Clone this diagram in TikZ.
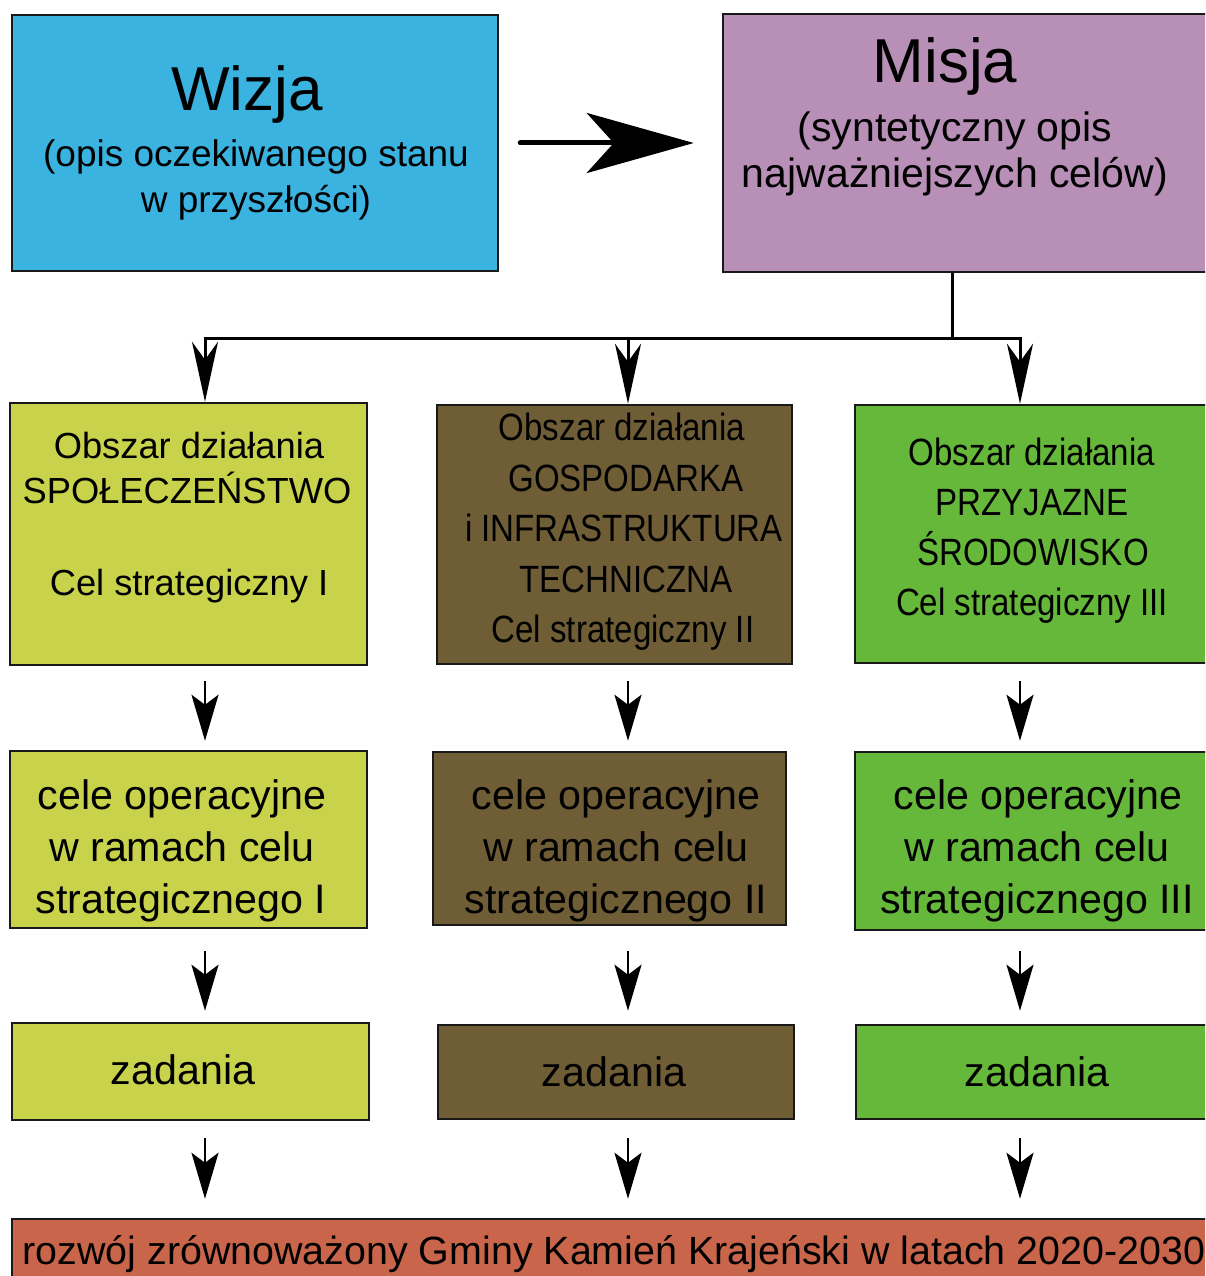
\documentclass[tikz,border=0pt]{standalone}
\usepackage{fontspec}
\setmainfont{Liberation Sans}
\newfontfamily\narrowfont[FakeStretch=0.87]{Liberation Sans}
\usetikzlibrary{arrows.meta}
\newcommand\myfs[1]{\fontsize{#1}{#1}\selectfont}
\definecolor{cwizja}{RGB}{59,179,224}
\definecolor{cmisja}{RGB}{184,143,182}
\definecolor{cyel}{RGB}{201,210,75}
\definecolor{cbrown}{RGB}{111,93,54}
\definecolor{cgreen}{RGB}{102,184,58}
\definecolor{cred}{RGB}{201,101,75}
\definecolor{cborder}{RGB}{25,25,25}
\begin{document}
\begin{tikzpicture}[x=1pt,y=-1pt,
  box/.style={draw=cborder, line width=2.5pt, inner sep=0pt},
  txt/.style={anchor=base, inner sep=0pt, text=black},
  big/.style={txt, font=\myfs{62}},
  sub/.style={txt, font=\myfs{37}},
  subm/.style={txt, font=\myfs{41}},
  obs/.style={txt, font=\myfs{36.3}},
  obsn/.style={txt, font=\narrowfont\myfs{38}},
  oper/.style={txt, font=\myfs{41.2}},
  bigarrow/.style={line width=5pt, line cap=round, -{Stealth[length=107pt, width=60pt, inset=27pt]}},
  distarrow/.style={line width=3pt, -{Stealth[length=60pt, width=26pt, inset=18pt]}},
  smallarrow/.style={line width=2.5pt, -{Stealth[length=46pt, width=27pt, inset=10pt]}}
]
\useasboundingbox (0,0) rectangle (1205,1276);
\clip (0,0) rectangle (1205,1276);
\fill[white] (0,0) rectangle (1205,1276);

% top boxes
\node[box, fill=cwizja, minimum width=486pt, minimum height=256pt] (wizja) at (255,143) {};
\node[box, fill=cmisja, minimum width=492pt, minimum height=258pt] (misja) at (969,143) {};

% row 1
\node[box, fill=cyel, minimum width=357pt, minimum height=262pt] (b1) at (188.5,534) {};
\node[box, fill=cbrown, minimum width=355pt, minimum height=259pt] (b2) at (614.5,534.5) {};
\node[box, fill=cgreen, minimum width=360pt, minimum height=258pt] (b3) at (1035,534) {};

% row 2
\node[box, fill=cyel, minimum width=357pt, minimum height=177pt] (c1) at (188.5,839.5) {};
\node[box, fill=cbrown, minimum width=353pt, minimum height=173pt] (c2) at (609.5,838.5) {};
\node[box, fill=cgreen, minimum width=360pt, minimum height=178pt] (c3) at (1035,841) {};

% row 3
\node[box, fill=cyel, minimum width=357pt, minimum height=97pt] (d1) at (190.5,1071.5) {};
\node[box, fill=cbrown, minimum width=356pt, minimum height=94pt] (d2) at (616,1072) {};
\node[box, fill=cgreen, minimum width=359pt, minimum height=94pt] (d3) at (1035.5,1072) {};

% bottom
\node[box, fill=cred, minimum width=1203pt, minimum height=81pt] (goal) at (613.5,1259.5) {};

% texts
\node[big] (wizjaT) at (247,111) {Wizja};
\node[sub] (wizjaA) at (256,167) {(opis oczekiwanego stanu};
\node[sub] (wizjaB) at (256,212) {w przyszłości)};

\node[big] (misjaT) at (945,83) {Misja};
\node[subm] (misjaA) at (955,142) {(syntetyczny opis};
\node[subm] (misjaB) at (955,188) {najważniejszych celów)};

\node[obs] (b1a) at (189,458) {Obszar działania};
\node[obs] (b1b) at (187,503) {SPOŁECZEŃSTWO};
\node[obs] (b1c) at (189,595) {Cel strategiczny I};

\node[obsn] (b2a) at (622,440) {Obszar działania};
\node[obsn] (b2b) at (626,491) {GOSPODARKA};
\node[obsn] (b2c) at (624,541) {i INFRASTRUKTURA};
\node[obsn] (b2d) at (626,592) {TECHNICZNA};
\node[obsn] (b2e) at (623,642) {Cel strategiczny II};

\node[obsn] (b3a) at (1032,465) {Obszar działania};
\node[obsn] (b3b) at (1032,515) {PRZYJAZNE};
\node[obsn] (b3c) at (1033,565) {ŚRODOWISKO};
\node[obsn] (b3d) at (1032,615) {Cel strategiczny III};

\node[oper] (c1a) at (182,809) {cele operacyjne};
\node[oper] (c1b) at (182,861) {w ramach celu};
\node[oper] (c1c) at (181,913) {strategicznego I};

\node[oper] (c2a) at (616,809) {cele operacyjne};
\node[oper] (c2b) at (616,861) {w ramach celu};
\node[oper] (c2c) at (616,913) {strategicznego II};

\node[oper] (c3a) at (1038,809) {cele operacyjne};
\node[oper] (c3b) at (1037,861) {w ramach celu};
\node[oper] (c3c) at (1037,913) {strategicznego III};

\node[oper] (d1t) at (183,1084) {zadania};
\node[oper] (d2t) at (614,1086) {zadania};
\node[oper] (d3t) at (1037,1086) {zadania};

\node[txt, font=\myfs{39.4}] (goalT) at (614,1264) {rozwój zrównoważony Gminy Kamień Krajeński w latach 2020-2030};

% connectors
\draw[bigarrow] ([xshift=21pt]wizja.east) -- ([xshift=-28pt]misja.west);

\coordinate (split) at (952,338);
\coordinate (colA) at (205,0);
\coordinate (colB) at (628,0);
\coordinate (colC) at (1020,0);

\draw[line width=3pt] (split |- misja.south) -- (split);
\draw[distarrow] (split) -| (colA |- b1.north);
\draw[distarrow] (split -| colB) -- (colB |- b2.north);
\draw[distarrow] (split) -| (colC |- b3.north);

\draw[smallarrow, shorten <=15pt, shorten >=9pt] (colA |- b1.south) -- (colA |- c1.north);
\draw[smallarrow, shorten <=16pt, shorten >=10pt] (colB |- b2.south) -- (colB |- c2.north);
\draw[smallarrow, shorten <=17pt, shorten >=10pt] (colC |- b3.south) -- (colC |- c3.north);

\draw[smallarrow, shorten <=22pt, shorten >=11pt] (colA |- c1.south) -- (colA |- d1.north);
\draw[smallarrow, shorten <=25pt, shorten >=13pt] (colB |- c2.south) -- (colB |- d2.north);
\draw[smallarrow, shorten <=20pt, shorten >=13pt] (colC |- c3.south) -- (colC |- d3.north);

\draw[smallarrow, shorten <=17pt, shorten >=19pt] (colA |- d1.south) -- (colA |- goal.north);
\draw[smallarrow, shorten <=18pt, shorten >=19pt] (colB |- d2.south) -- (colB |- goal.north);
\draw[smallarrow, shorten <=18pt, shorten >=19pt] (colC |- d3.south) -- (colC |- goal.north);
\end{tikzpicture}
\end{document}
